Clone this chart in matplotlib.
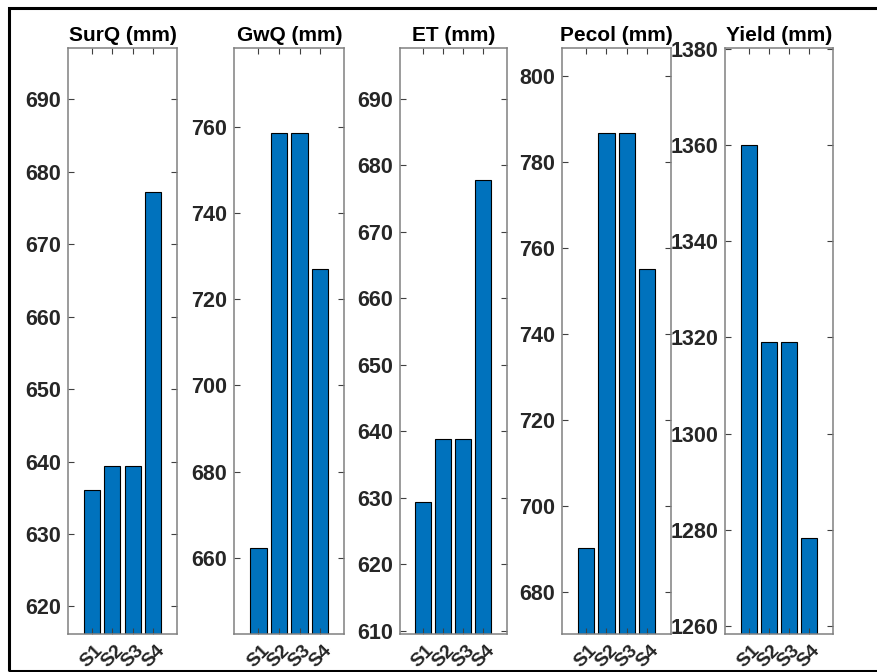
import matplotlib
matplotlib.use("Agg")
import matplotlib.pyplot as plt
from matplotlib.patches import Rectangle

plt.rcParams['font.family'] = ['Liberation Sans', 'DejaVu Sans']

categories = ["S1", "S2", "S3", "S4"]
titles = ["SurQ (mm)", "GwQ (mm)", "ET (mm)", "Pecol (mm)", "Yield (mm)"]
surq = [636.1, 639.4, 639.4, 677.2]
gwq = [662.2, 758.5, 758.5, 727.0]
et = [629.4, 638.8, 638.8, 677.8]
pecol = [690.3, 786.7, 786.7, 755.1]
yld = [1360.1, 1319.0, 1319.0, 1278.2]
series = [surq, gwq, et, pecol, yld]

ylims = [(616.2, 697.1), (642.3, 778.4), (609.5, 697.7), (670.3, 806.6), (1258.3, 1380.3)]
yticks = [list(range(620, 691, 10)), list(range(660, 761, 20)), list(range(610, 691, 10)),
          list(range(680, 801, 20)), list(range(1260, 1381, 20))]

W, H = 877, 672
fig = plt.figure(figsize=(W / 100, H / 100), dpi=100)

lefts = [67.7, 234.3, 399.7, 562.3, 725.3]
rights = [177.3, 344.3, 506.7, 671.0, 832.7]
top, bottom = 47.7, 634.0

txt = '#262626'
spine = '#808080'
xs = [1, 2, 3, 4]

for i in range(5):
    ax = fig.add_axes([lefts[i] / W, 1 - bottom / H, (rights[i] - lefts[i]) / W, (bottom - top) / H])
    ax.bar(xs, series[i], width=0.8, color='#0072BD', edgecolor='black', linewidth=0.8)
    ax.set_xlim(-0.17, 5.17)
    ax.set_ylim(*ylims[i])
    ax.set_yticks(yticks[i])
    ax.set_xticks(xs)
    ax.set_xticklabels(categories, rotation=45, ha='center', fontweight='bold', fontsize=14, color=txt)
    for lab in ax.get_yticklabels():
        lab.set_fontweight('bold')
    ax.tick_params(axis='y', direction='in', length=4, width=0.8, color='#404040',
                   labelsize=15.5, labelcolor=txt, left=True, right=True, pad=5)
    ax.tick_params(axis='x', direction='in', length=4, width=0.8, color='#404040',
                   top=True, bottom=True, pad=6)
    for s in ax.spines.values():
        s.set_color(spine)
        s.set_linewidth(1.1)
    ax.set_title(titles[i], fontsize=15, fontweight='bold', color='black', pad=5)

fig.patches.append(Rectangle((9 / W, 1 - 671 / H), (W + 10 - 9) / W, (671 - 8) / H,
                             transform=fig.transFigure, fill=False, edgecolor='black',
                             linewidth=2.2, clip_on=False))

fig.savefig("out.png", dpi=100)
